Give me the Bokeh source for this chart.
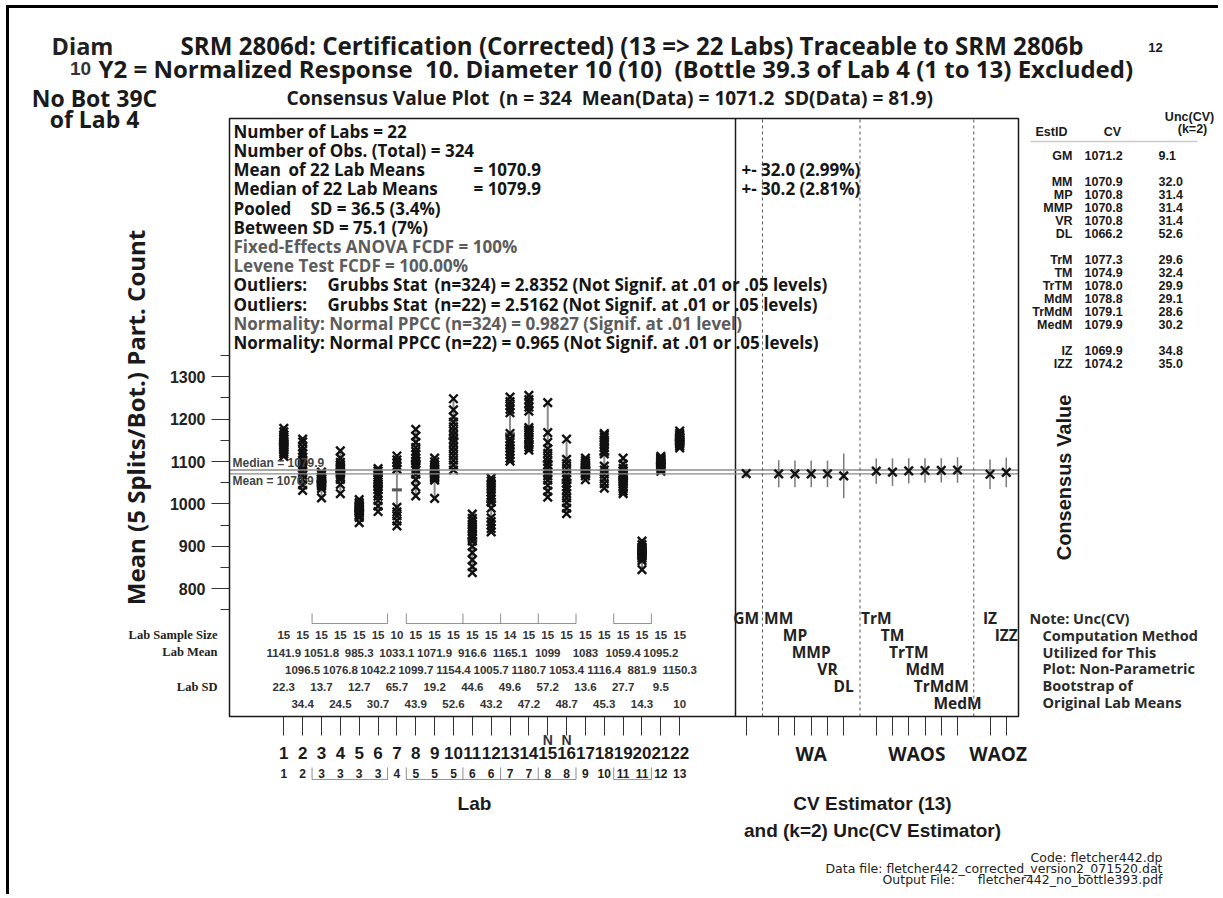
import math
from bokeh.plotting import figure
from bokeh.models import (Range1d, LinearAxis, FixedTicker, CustomJSTickFormatter,
                          Label, LabelSet, ColumnDataSource, PolyAnnotation, BoxAnnotation)
from bokeh.core.properties import value
from bokeh.embed import file_html
from bokeh.resources import INLINE

try:
    from bokeh.core.enums import CoordinateUnits
    HAS_CANVAS = "canvas" in CoordinateUnits
except Exception:
    HAS_CANVAS = False

# ------------------------------------------------------------------ data
labs = [1, 2, 3, 4, 5, 6, 7, 8, 9, 10, 11, 12, 13, 14, 15, 16, 17, 18, 19, 20, 21, 22]
orig_lab = [1, 2, 3, 3, 3, 3, 4, 5, 5, 5, 6, 6, 7, 7, 8, 8, 9, 10, 11, 11, 12, 13]
sample_size = [15, 15, 15, 15, 15, 15, 10, 15, 15, 15, 15, 15, 14, 15, 15, 15, 15, 15, 15, 15, 15, 15]
lab_mean = [1141.9, 1096.5, 1051.8, 1076.8, 985.3, 1042.2, 1033.1, 1099.7, 1071.9, 1154.4, 916.6,
            1005.7, 1165.1, 1180.7, 1099, 1053.4, 1083, 1116.4, 1059.4, 881.9, 1095.2, 1150.3]
lab_sd = [22.3, 34.4, 13.7, 24.5, 12.7, 30.7, 65.7, 43.9, 19.2, 52.6, 44.6, 43.2, 49.6, 47.2,
          57.2, 48.7, 13.6, 45.3, 27.7, 14.3, 9.5, 10]
flag_labs = [15, 16]

lab_01 = [1112, 1118, 1122, 1127, 1131, 1135, 1139, 1142, 1145, 1150, 1154, 1158, 1163, 1170, 1178]
lab_02 = [1032, 1045, 1058, 1068, 1077, 1085, 1092, 1098, 1104, 1110, 1118, 1126, 1135, 1146, 1153]
lab_03 = [1014, 1036, 1042, 1045, 1047, 1049, 1051, 1053, 1055, 1057, 1059, 1061, 1064, 1069, 1075]
lab_04 = [1024, 1046, 1058, 1064, 1069, 1073, 1076, 1079, 1082, 1085, 1088, 1092, 1098, 1108, 1125]
lab_05 = [956, 968, 974, 978, 981, 983, 985, 987, 989, 991, 993, 996, 999, 1003, 1010]
lab_06 = [982, 995, 1008, 1018, 1026, 1034, 1040, 1046, 1052, 1058, 1063, 1068, 1073, 1078, 1083]
lab_07 = [948, 960, 972, 981, 992, 1082, 1090, 1097, 1104, 1113]
lab_08 = [1019, 1040, 1058, 1070, 1080, 1088, 1095, 1101, 1108, 1116, 1124, 1133, 1145, 1160, 1176]
lab_09 = [1013, 1056, 1060, 1063, 1066, 1069, 1071, 1074, 1077, 1080, 1083, 1087, 1092, 1099, 1108]
lab_10 = [1080, 1092, 1103, 1114, 1124, 1134, 1144, 1153, 1162, 1172, 1182, 1193, 1205, 1222, 1248]
lab_11 = [838, 852, 868, 885, 900, 912, 920, 927, 934, 940, 946, 952, 958, 966, 976]
lab_12 = [934, 942, 950, 958, 967, 990, 1004, 1012, 1020, 1027, 1034, 1041, 1048, 1054, 1061]
lab_13 = [1101, 1108, 1116, 1124, 1131, 1138, 1145, 1153, 1166, 1215, 1223, 1232, 1241, 1252]
lab_14 = [1127, 1134, 1140, 1146, 1152, 1157, 1163, 1168, 1174, 1180, 1219, 1228, 1237, 1246, 1256]
lab_15 = [1016, 1030, 1044, 1056, 1066, 1075, 1084, 1092, 1100, 1109, 1119, 1130, 1145, 1168, 1239]
lab_16 = [977, 990, 1003, 1014, 1024, 1033, 1041, 1049, 1057, 1065, 1074, 1084, 1095, 1105, 1153]
lab_17 = [1057, 1066, 1071, 1074, 1077, 1079, 1081, 1083, 1085, 1087, 1090, 1093, 1097, 1102, 1108]
lab_18 = [1037, 1048, 1059, 1070, 1080, 1089, 1118, 1125, 1132, 1139, 1145, 1151, 1157, 1162, 1166]
lab_19 = [1024, 1030, 1036, 1042, 1048, 1053, 1057, 1061, 1065, 1069, 1073, 1078, 1084, 1094, 1108]
lab_20 = [845, 866, 872, 876, 879, 881, 883, 885, 887, 889, 891, 894, 898, 904, 912]
lab_21 = [1077, 1083, 1087, 1089, 1091, 1093, 1095, 1096, 1098, 1100, 1102, 1104, 1106, 1109, 1112]
lab_22 = [1132, 1137, 1141, 1144, 1146, 1148, 1150, 1151, 1153, 1155, 1157, 1159, 1162, 1166, 1172]
lab_obs = [lab_01, lab_02, lab_03, lab_04, lab_05, lab_06, lab_07, lab_08, lab_09, lab_10, lab_11,
           lab_12, lab_13, lab_14, lab_15, lab_16, lab_17, lab_18, lab_19, lab_20, lab_21, lab_22]

cv_est = ["GM", "MM", "MP", "MMP", "VR", "DL", "TrM", "TM", "TrTM", "MdM", "TrMdM", "MedM", "IZ", "IZZ"]
cv_group = ["", "WA", "WA", "WA", "WA", "WA", "WAOS", "WAOS", "WAOS", "WAOS", "WAOS", "WAOS", "WAOZ", "WAOZ"]
cv_val = [1071.2, 1070.9, 1070.8, 1070.8, 1070.8, 1066.2, 1077.3, 1074.9, 1078.0, 1078.8, 1079.1, 1079.9, 1069.9, 1074.2]
cv_unc = [9.1, 32.0, 31.4, 31.4, 31.4, 52.6, 29.6, 32.4, 29.9, 29.1, 28.6, 30.2, 34.8, 35.0]

median_lab_means = 1079.9
mean_lab_means = 1070.9

y_ticks = [800, 900, 1000, 1100, 1200, 1300]
y_minor = [750, 850, 950, 1050, 1150, 1250, 1350]

# ------------------------------------------------------------------ layout (page pixels)
W, H = 1218, 894
BOX_L, BOX_R, BOX_T, BOX_B, SEP = 229, 1018, 118, 716, 735
Y_REF, Y_REF_PX, Y_PPU = 1100.0, 461.0, 0.424
LAB1_PX, LAB_PPU = 283.3, 18.852
CV1_PX, CV_PPU = 745.7, 16.255


def lab_at(px):
    return 1 + (px - LAB1_PX) / LAB_PPU


def cv_at(px):
    return 1 + (px - CV1_PX) / CV_PPU


def val_at(py):
    return Y_REF + (Y_REF_PX - py) / Y_PPU


SANS = "Liberation Sans"
OPEN = "Open Sans"
WIDE = "DejaVu Sans"
SERIF = "Liberation Serif"
INK = "#1a1a1a"
UNITS = "canvas" if HAS_CANVAS else "screen"


def ux(xp):
    return xp


def uy(yp):
    return yp if HAS_CANVAS else H - yp


p = figure(width=W, height=H, x_range=Range1d(lab_at(0), lab_at(W)),
           y_range=Range1d(val_at(H), val_at(0)),
           x_axis_type=None, y_axis_type=None, output_backend="svg", toolbar_location=None,
           min_border_left=0, min_border_right=0, min_border_top=0, min_border_bottom=0)
p.extra_x_ranges = {"cv": Range1d(cv_at(0), cv_at(W))}
p.outline_line_color = None
p.background_fill_color = "white"
p.border_fill_color = "white"

bl, br, bsep = lab_at(BOX_L), lab_at(BOX_R), lab_at(SEP)
bb, bt = val_at(BOX_B), val_at(BOX_T)


def put(text, xp=None, yp=None, size=14, color=INK, bold=True, align="left", baseline="middle",
        angle=0.0, font=SANS, xd=None, yd=None, xr="default"):
    kw = dict(text=text, text_font=font, text_font_size=f"{size}px",
              text_font_style="bold" if bold else "normal", text_color=color,
              text_align=align, text_baseline=baseline, angle=angle)
    if xd is None:
        kw.update(x=ux(xp), x_units=UNITS)
    else:
        kw.update(x=xd, x_units="data", x_range_name=xr)
    if yd is None:
        kw.update(y=uy(yp), y_units=UNITS)
    else:
        kw.update(y=yd, y_units="data")
    p.add_layout(Label(**kw))


def poly(xs, ys, xdata=False, xr="default", color=INK, width=1.0, fill=None):
    kw = dict(xs=[x if xdata else ux(x) for x in xs], ys=[uy(y) for y in ys],
              xs_units="data" if xdata else UNITS, ys_units=UNITS,
              fill_color=fill, fill_alpha=1.0 if fill else 0.0,
              line_color=color, line_width=width)
    if xdata:
        kw["x_range_name"] = xr
    p.add_layout(PolyAnnotation(**kw))


# plot box
p.add_layout(BoxAnnotation(left=bl, right=br, bottom=bb, top=bt, fill_color=None,
                           line_color=INK, line_width=1.5, line_alpha=1))
p.segment(x0=[bsep], y0=[bb], x1=[bsep], y1=[bt], line_color=INK, line_width=1.5)

# ------------------------------------------------------------------ lab data marks
xs_pts, ys_pts = [], []
for lab, obs in zip(labs, lab_obs):
    xs_pts += [lab] * len(obs)
    ys_pts += obs
p.segment(x0=labs, y0=[min(o) for o in lab_obs], x1=labs, y1=[max(o) for o in lab_obs],
          line_color="#8c8c8c", line_width=2)
p.scatter(x=labs, y=lab_mean, marker="dash", size=10, line_width=3, line_color="#555")
p.scatter(x=xs_pts, y=ys_pts, marker="x", size=12, line_width=2.4, line_color="#111")

# consensus lines
p.segment(x0=[bl, bl], y0=[median_lab_means, mean_lab_means], x1=[br, br],
          y1=[median_lab_means, mean_lab_means], line_color="#8a8a8a", line_width=1.3)
put(f"Median = {median_lab_means}", xp=232, yd=median_lab_means, size=12, color="#444",
    baseline="bottom")
put(f"Mean = {mean_lab_means}", xp=232, yd=mean_lab_means, size=12, color="#444", baseline="top")

# ------------------------------------------------------------------ CV panel
cv_slot, cv_row = [], []
prev = None
s = 0
r = 0
for g in cv_group:
    if prev is None:
        s, r = 1, 0
    elif g != prev:
        s, r = s + 2, 0
    else:
        s, r = s + 1, r + 1
    cv_slot.append(s)
    cv_row.append(r)
    prev = g

p.segment(x0=cv_slot, y0=[v - u for v, u in zip(cv_val, cv_unc)], x1=cv_slot,
          y1=[v + u for v, u in zip(cv_val, cv_unc)], line_color="#7a7a7a", line_width=1.5,
          x_range_name="cv")
p.scatter(x=cv_slot, y=cv_val, marker="x", size=12, line_width=2.4, line_color="#111",
          x_range_name="cv")

dots = [(cv_slot[i] + cv_slot[i - 1]) / 2 for i in range(1, len(cv_group))
        if cv_group[i] != cv_group[i - 1]]
p.segment(x0=dots, y0=[bb] * len(dots), x1=dots, y1=[bt] * len(dots), line_color="#555",
          line_width=1, line_dash="3 3", x_range_name="cv")

cv_src = ColumnDataSource(dict(x=cv_slot, y=[uy(617 + 17 * rr) for rr in cv_row], t=cv_est))
p.add_layout(LabelSet(x="x", y="y", text="t", source=cv_src, x_range_name="cv", x_units="data",
                      y_units=UNITS, text_align="center", text_baseline="middle",
                      text_font=value(OPEN), text_font_size=value("15.5px"),
                      text_font_style="bold", text_color="#222"))

groups_seen = []
for g in cv_group:
    if g and g not in groups_seen:
        groups_seen.append(g)
for g in groups_seen:
    sl = [sv for sv, gg in zip(cv_slot, cv_group) if gg == g]
    put(g, xd=sum(sl) / len(sl), xr="cv", yp=753, size=19, align="center", font=OPEN)

# ------------------------------------------------------------------ axes
yaxis = LinearAxis(ticker=FixedTicker(ticks=y_ticks, minor_ticks=y_minor), fixed_location=bl)
yaxis.axis_line_color = None
yaxis.major_tick_out = 18
yaxis.major_tick_in = 0
yaxis.minor_tick_out = 9
yaxis.minor_tick_in = 0
yaxis.major_tick_line_color = "#333"
yaxis.minor_tick_line_color = "#333"
yaxis.major_label_text_font = SANS
yaxis.major_label_text_font_size = "16px"
yaxis.major_label_text_font_style = "bold"
yaxis.major_label_text_color = "#222"
yaxis.major_label_standoff = 6
p.add_layout(yaxis, "left")
put("Mean (5 Splits/Bot.) Part. Count", 135, 417, 24, align="center", angle=math.pi / 2,
    font=OPEN)

cv_ticks_lab_units = [lab_at(CV1_PX + (sv - 1) * CV_PPU) for sv in cv_slot]
xaxis = LinearAxis(ticker=FixedTicker(ticks=labs + cv_ticks_lab_units), fixed_location=bb,
                   formatter=CustomJSTickFormatter(args=dict(sep=bsep),
                                                   code="return (tick < sep) ? String(Math.round(tick)) : '';"))
xaxis.axis_line_color = None
xaxis.major_tick_out = 19
xaxis.major_tick_in = 0
xaxis.major_tick_line_color = "#333"
xaxis.major_label_text_font = SANS
xaxis.major_label_text_font_size = "17px"
xaxis.major_label_text_font_style = "bold"
xaxis.major_label_text_color = INK
xaxis.major_label_standoff = 11
p.add_layout(xaxis, "below")

for fl in flag_labs:
    put("N", xd=fl, yp=739, size=14, color="#333", align="center")

row2 = ColumnDataSource(dict(x=labs, t=[str(v) for v in orig_lab]))
p.add_layout(LabelSet(x="x", y=uy(773), text="t", source=row2, y_units=UNITS,
                      text_align="center", text_baseline="middle", text_font=value(SANS),
                      text_font_size=value("12px"), text_font_style="bold", text_color="#222"))

# group brackets (inside box and under the second label row)
grp = []
i = 0
while i < len(labs):
    j = i
    while j + 1 < len(labs) and orig_lab[j + 1] == orig_lab[i]:
        j += 1
    if j > i:
        grp.append((labs[i] - 0.5, labs[j] + 0.5))
    i = j + 1
chains = []
for a, b in grp:
    if chains and abs(chains[-1][-1] - a) < 1e-9:
        chains[-1].append(b)
    else:
        chains.append([a, b])
for top, bot in [(613, 623), (767, 779)]:
    for ch in chains:
        xs = [ch[0], ch[0]]
        ys = [top, bot]
        for e in ch[1:]:
            xs += [e, e, e]
            ys += [bot, top, bot]
        xs.append(ch[0])
        ys.append(bot)
        poly(xs, ys, xdata=True, color="#333")

# lab tables
tab = ColumnDataSource(dict(
    x=labs,
    n=[str(v) for v in sample_size],
    m=[f"{v:g}" for v in lab_mean],
    s=[f"{v:g}" for v in lab_sd],
    ym=[uy(652 if lab % 2 == 1 else 669) for lab in labs],
    ys=[uy(686 if lab % 2 == 1 else 703) for lab in labs],
))
for field, yv in [("n", uy(634)), ("m", "ym"), ("s", "ys")]:
    p.add_layout(LabelSet(x="x", y=yv, text=field, source=tab, y_units=UNITS,
                          text_align="center", text_baseline="middle", text_font=value(SANS),
                          text_font_size=value("11.5px"), text_font_style="bold",
                          text_color="#333"))
put("Lab Sample Size", 217, 634, 12.5, align="right", font=SERIF, color="#222")
put("Lab Mean", 217, 651, 12.5, align="right", font=SERIF, color="#222")
put("Lab SD", 217, 686, 12.5, align="right", font=SERIF, color="#222")

# ------------------------------------------------------------------ titles
put("Diam", 82, 45, 23.5, align="center", color="#222", font=OPEN)
put("SRM 2806d: Certification (Corrected) (13 => 22 Labs) Traceable to SRM 2806b", 180, 45, 24.1,
    font=OPEN)
put("12", 1155, 47, 13, align="center")
put("10", 80, 68, 19, align="center", color="#333")
put("Y2 = Normalized Response\u00a0 10. Diameter 10 (10)\u00a0 (Bottle 39.3 of Lab 4 (1 to 13) Excluded)",
    98, 68, 24, font=OPEN)
put("No Bot 39C", 94, 97, 23, align="center", font=OPEN)
put("Consensus Value Plot\u00a0 (n = 324\u00a0 Mean(Data) = 1071.2\u00a0 SD(Data) = 81.9)", 286, 97,
    19.1, font=OPEN)
put("of Lab 4", 94, 118, 23, align="center", font=OPEN)

# ------------------------------------------------------------------ stats block
BLACK, GRAY = "#151515", "#5c5c5c"
stats = [
    ([(233, "Number of Labs = 22")], BLACK),
    ([(233, "Number of Obs. (Total) = 324")], BLACK),
    ([(233, "Mean"), (288, "of 22 Lab Means"), (473, "= 1070.9"), (741, "+- 32.0 (2.99%)")], BLACK),
    ([(233, "Median of 22 Lab Means"), (473, "= 1079.9"), (741, "+- 30.2 (2.81%)")], BLACK),
    ([(233, "Pooled"), (310, "SD = 36.5 (3.4%)")], BLACK),
    ([(233, "Between SD = 75.1 (7%)")], BLACK),
    ([(233, "Fixed-Effects ANOVA FCDF = 100%")], GRAY),
    ([(233, "Levene Test FCDF = 100.00%")], GRAY),
    ([(233, "Outliers:"), (327, "Grubbs Stat"), (434, "(n=324) = 2.8352 (Not Signif. at .01 or .05 levels)")], BLACK),
    ([(233, "Outliers:"), (327, "Grubbs Stat"), (434, "(n=22) = 2.5162 (Not Signif. at .01 or .05 levels)")], BLACK),
    ([(233, "Normality: Normal PPCC (n=324) = 0.9827 (Signif. at .01 level)")], GRAY),
    ([(233, "Normality: Normal PPCC (n=22) = 0.965 (Not Signif. at .01 or .05 levels)")], BLACK),
]
for k, (parts, col) in enumerate(stats):
    for xp, t in parts:
        put(t, xp, 130.7 + 19.2 * k, 17, color=col, font=OPEN)

# ------------------------------------------------------------------ right table
put("EstID", 1051, 131, 12.5, align="center")
put("CV", 1112, 131, 12.5, align="center")
put("Unc(CV)", 1189, 116, 12.5, align="center")
put("(k=2)", 1192, 128, 12.5, align="center")
poly([1030, 1197, 1030], [141, 141, 141], color="#555", width=1.5)
ty = 155
prevg = None
for est, v, u, g in zip(cv_est, cv_val, cv_unc, cv_group):
    if prevg is not None and g != prevg:
        ty += 13
    put(est, 1072, ty, 12.5, align="right")
    put(f"{v:.1f}", 1084, ty, 12.5)
    put(f"{u:.1f}", 1158, ty, 12.5)
    ty += 13
    prevg = g

put("Consensus Value", 1063, 477, 20, align="center", angle=math.pi / 2)

notes = ["Note: Unc(CV)", "Computation Method", "Utilized for This", "Plot: Non-Parametric",
         "Bootstrap of", "Original Lab Means"]
for k, t in enumerate(notes):
    put(t, 1029 if k == 0 else 1042, 618 + 16.8 * k, 14.5, color="#2a2a2a", font=OPEN)

# ------------------------------------------------------------------ bottom labels
put("Lab", 474, 803, 19, align="center")
put("CV Estimator (13)", 872, 803, 19, align="center")
put("and (k=2) Unc(CV Estimator)", 872, 830, 19, align="center")
put("Code: fletcher442.dp", 1162, 857, 12.5, align="right", bold=False, color="#222", font=WIDE)
put("Data file: fletcher442_corrected_version2_071520.dat", 1162, 868, 12.5, align="right",
    bold=False, color="#222", font=WIDE)
put("Output File:", 882, 879, 12.5, bold=False, color="#222", font=WIDE)
put("fletcher442_no_bottle393.pdf", 1162, 879, 12.5, align="right", bold=False, color="#222",
    font=WIDE)

# outer border (top and left)
poly([5.5, W, W, 8.5, 8.5, 5.5], [4.5, 4.5, 7.5, 7.5, H, H], color=None, width=0, fill="#000")

open("out.html", "w").write(file_html(p, INLINE))
